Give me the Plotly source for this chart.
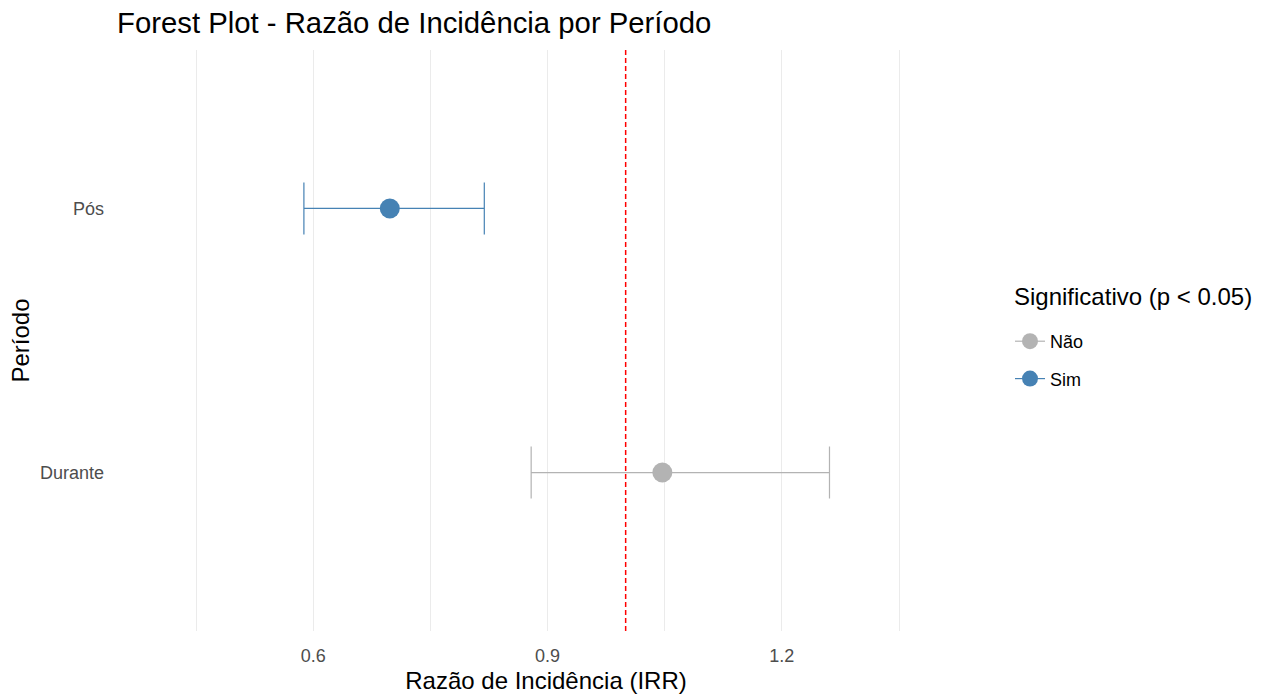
import plotly.graph_objects as go

# ---- data ----
periods = ["Pós", "Durante"]
irr = [0.698, 1.047]
ci_low = [0.588, 0.879]
ci_high = [0.819, 1.261]
significant = ["Sim", "Não"]
null_value = 1.0

category_order = ["Durante", "Pós"]
x_tickvals = [0.6, 0.9, 1.2]
x_ticktext = ["0.6", "0.9", "1.2"]
x_minor_vals = [0.45, 0.75, 1.05, 1.35]
legend_order = ["Não", "Sim"]
legend_title = "Significativo (p < 0.05)"
colors = {"Não": "#B3B3B3", "Sim": "#4682B4"}

FONT = "Liberation Sans, Arial, sans-serif"

fig = go.Figure()
for grp in legend_order:
    idx = [i for i, s in enumerate(significant) if s == grp]
    xs = [irr[i] for i in idx]
    ys = [periods[i] for i in idx]
    plus = [ci_high[i] - irr[i] for i in idx]
    minus = [irr[i] - ci_low[i] for i in idx]
    fig.add_trace(go.Scatter(
        x=xs, y=ys, mode="lines+markers", name=grp, legendgroup=grp,
        marker=dict(size=20, color=colors[grp], symbol="circle"),
        line=dict(color=colors[grp], width=1.2),
        error_x=dict(type="data", symmetric=False, array=plus, arrayminus=minus,
                     color=colors[grp], thickness=1.2, width=26),
        showlegend=True,
    ))

fig.add_vline(x=null_value, line=dict(color="#FF0000", width=1.5, dash="5px,3px"), layer="above")

fig.add_annotation(text=legend_title, xref="paper", yref="paper",
                   x=(1012 - 111) / 870, xanchor="left",
                   y=(631 - 296) / 581, yanchor="middle",
                   showarrow=False, font=dict(size=24, color="black", family=FONT))

fig.update_layout(
    width=1276, height=696,
    autosize=False,
    paper_bgcolor="white", plot_bgcolor="white",
    margin=dict(l=111, r=295, t=50, b=65),
    font=dict(family=FONT, color="black"),
    title=dict(text="Forest Plot - Razão de Incidência por Período",
               x=117 / 1276, xref="container", xanchor="left",
               y=1 - 23 / 696, yref="container", yanchor="middle",
               font=dict(size=29.3, color="black", family=FONT)),
    xaxis=dict(
        range=[0.341, 1.455],
        automargin=False,
        tickvals=x_tickvals, ticktext=x_ticktext,
        showgrid=True, gridcolor="#EBEBEB", gridwidth=1.2,
        minor=dict(tickvals=x_minor_vals, showgrid=True, gridcolor="#EBEBEB", gridwidth=1.2, ticks=""),
        zeroline=False, showline=False, ticks="",
        tickfont=dict(size=18, color="#4D4D4D", family=FONT),
        ticklabelstandoff=12,
        title=dict(text="Razão de Incidência (IRR)", font=dict(size=24, color="black", family=FONT), standoff=7),
    ),
    yaxis=dict(
        type="category", categoryorder="array", categoryarray=category_order,
        range=[-0.6, 1.6],
        automargin=False,
        showgrid=False, zeroline=False, showline=False, ticks="",
        tickfont=dict(size=18, color="#4D4D4D", family=FONT),
        ticklabelstandoff=6,
        title=dict(text="Período", font=dict(size=24, color="black", family=FONT), standoff=3),
    ),
    legend=dict(
        font=dict(size=18, color="black", family=FONT),
        x=(1010 - 111) / 870, xanchor="left",
        y=(631 - 323) / 581, yanchor="top",
        tracegroupgap=11, itemsizing="trace",
        bgcolor="rgba(0,0,0,0)",
    ),
)

fig.write_html("out.html", config={"displayModeBar": False},
               post_script="document.body.style.margin='0';document.body.style.overflow='hidden';")
